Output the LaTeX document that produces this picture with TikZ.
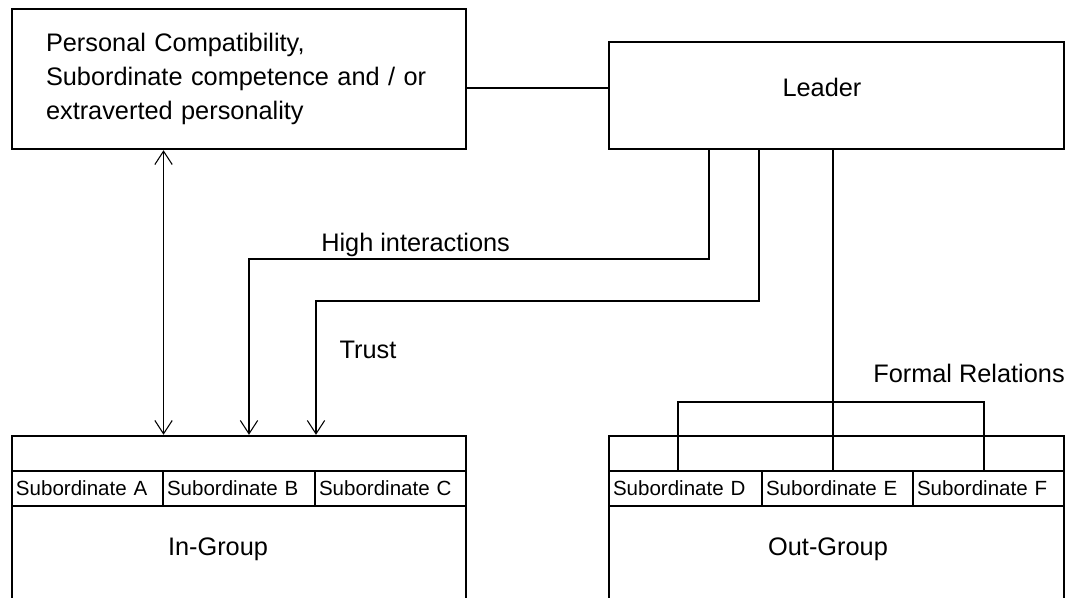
\documentclass[tikz,border=0pt]{standalone}
\usepackage{fontspec}
\setmainfont{Liberation Sans}
\usetikzlibrary{arrows.meta,calc}
\begin{document}
\begin{tikzpicture}[x=0.75pt,y=-0.75pt,
  bigbox/.style={draw,line width=1.8pt,inner sep=0pt},
  cell/.style={draw,line width=0.8pt,inner ysep=0pt,inner xsep=3pt,
    minimum height=26.25pt,align=left,font=\fontsize{15.4}{18}\selectfont},
  mainfont/.style={font=\fontsize{19}{25.5}\selectfont},
  conn/.style={line width=0.8pt},
  tip/.style={-{Straight Barb[length=10pt,width=13pt,line width=0.8pt]}}
]
\useasboundingbox (0,0) rectangle (1071,598);
\clip (0,0) rectangle (1071,598);
% top boxes
\node[bigbox,minimum width=340.5pt,minimum height=105pt,text width=289.5pt,
  inner xsep=25.5pt,align=left,mainfont] (pc) at (239,79)
  {Personal Compatibility,\\Subordinate competence and / or\\extraverted personality};
\node[bigbox,minimum width=341.25pt,minimum height=80.25pt] (leader) at (836.5,95.5) {};
\node[mainfont,inner sep=0pt] (leadertext) at (822,87) {Leader};
% group boxes
\node[bigbox,minimum width=340.5pt,minimum height=150pt] (ing) at (239,536) {};
\node[bigbox,minimum width=341.25pt,minimum height=150pt] (outg) at (836.5,536) {};
% cells
\node[cell,text width=107.25pt] (subA) at (87.5,488.5) {Subordinate A};
\node[cell,text width=108pt] (subB) at (239,488.5) {Subordinate B};
\node[cell,text width=107.25pt] (subC) at (390.5,488.5) {Subordinate C};
\node[cell,text width=108.75pt] (subD) at (685.5,488.5) {Subordinate D};
\node[cell,text width=107.25pt] (subE) at (837.5,488.5) {Subordinate E};
\node[cell,text width=107.25pt] (subF) at (988.5,488.5) {Subordinate F};
\node[mainfont] (inlabel) at (218,549) {In-Group};
\node[mainfont] (outlabel) at (828,549) {Out-Group};
% labels
\node[mainfont,anchor=west,inner sep=0pt] (hilabel) at (321,245) {High interactions};
\node[mainfont] (trustlabel) at (368,350) {Trust};
\node[mainfont] (formlabel) at (969,373) {Formal Relations};
% connectors
\coordinate (m1) at (0,88);
\draw[conn] (pc.east |- m1) -- (leader.west |- m1);
\draw[conn,{Straight Barb[length=10pt,width=13pt,line width=0.8pt]}-{Straight Barb[length=10pt,width=13pt,line width=0.8pt]}]
  (pc.south -| subA.east) -- (ing.north -| subA.east);
\coordinate (h1) at (709,259);
\coordinate (h2) at (249,259);
\draw[conn,tip] (leader.south -| h1) -- (h1) -- (h2) -- (ing.north -| h2);
\coordinate (t1) at (759,301);
\coordinate (t2) at (316,301);
\draw[conn,tip] (leader.south -| t1) -- (t1) -- (t2) -- (ing.north -| t2);
\coordinate (f0) at (833,402);
\coordinate (f1) at (678,402);
\coordinate (f2) at (984,402);
\draw[conn] (leader.south -| f0) -- (subE.north -| f0);
\draw[conn] (subD.north -| f1) -- (f1) -- (f2) -- (subF.north -| f2);
\end{tikzpicture}
\end{document}
